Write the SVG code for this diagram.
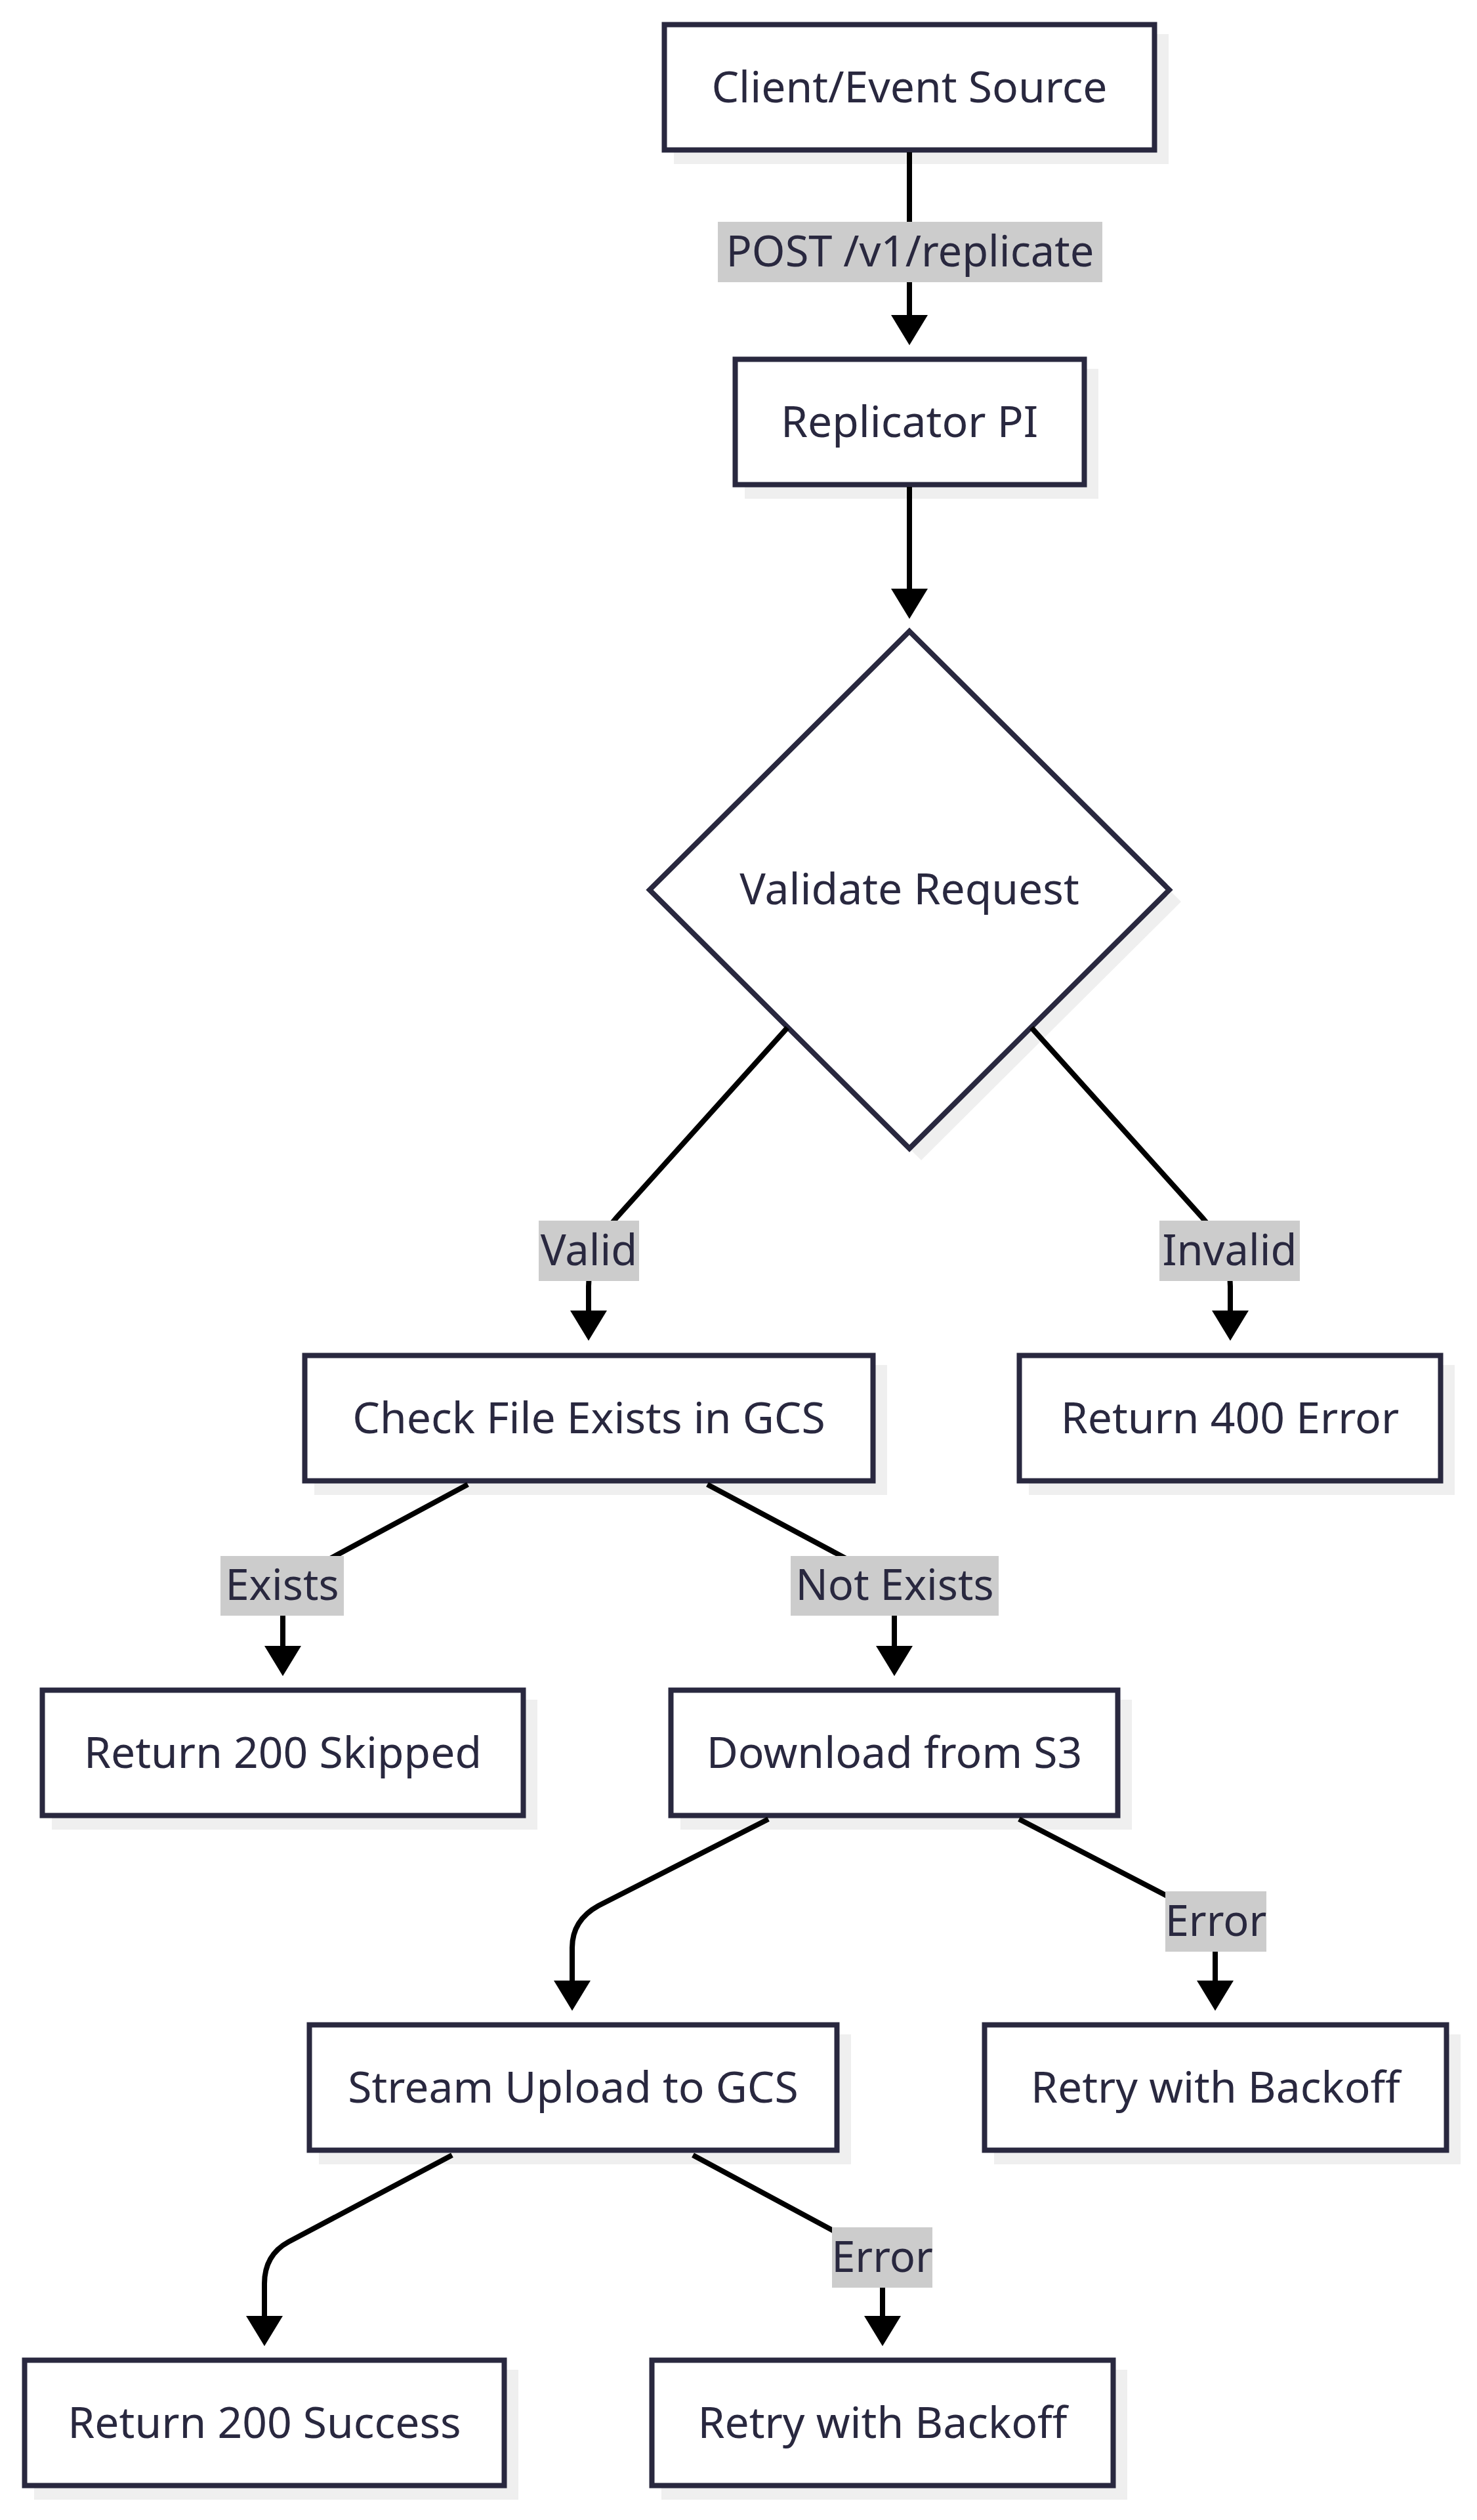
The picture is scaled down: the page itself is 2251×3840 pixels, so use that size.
<svg xmlns="http://www.w3.org/2000/svg" width="2251" height="3840" viewBox="0 0 2251 3840">
<defs>
<style>
.shadow{fill:#efefef;stroke:none}
.node{fill:#ffffff;stroke:#29283f;stroke-width:8}
.ntext{font-family:"Noto Sans","Open Sans",sans-serif;font-size:66px;fill:#29283f;text-anchor:middle}
.edge{fill:none;stroke:#000000;stroke-width:8}
.lbg{fill:#cccccc;stroke:none}
.ltext{font-family:"Noto Sans","Open Sans",sans-serif;font-size:65px;fill:#29283f;text-anchor:middle}
</style>
<marker id="arrow" markerUnits="userSpaceOnUse" viewBox="0 0 46 56" refX="1" refY="28" markerWidth="46" markerHeight="56" orient="auto">
<path d="M0,0 L46,28 L0,56 z" fill="#000000"/>
</marker>
</defs>
<rect x="0" y="0" width="2251" height="3840" fill="#ffffff"/>

<g id="node-client">
<rect class="shadow" x="1027" y="52" width="754" height="198"/>
<rect class="node" x="1012.5" y="37.5" width="747" height="191"/>
<text class="ntext" x="1386" y="156">Client/Event Source</text>
</g>
<g id="node-replicator">
<rect class="shadow" x="1135" y="562" width="539" height="198"/>
<rect class="node" x="1120.5" y="547.5" width="532" height="191"/>
<text class="ntext" x="1386" y="666">Replicator PI</text>
</g>
<g id="node-validate">
<polygon class="shadow" points="1404,980 1800,1374 1404,1768 1008,1374"/>
<polygon class="node" points="1386,962 1782,1356 1386,1750 990,1356"/>
<text class="ntext" x="1386" y="1378">Validate Request</text>
</g>
<g id="node-check">
<rect class="shadow" x="479" y="2080" width="873" height="198"/>
<rect class="node" x="464.5" y="2065.5" width="866" height="191"/>
<text class="ntext" x="897.5" y="2184">Check File Exists in GCS</text>
</g>
<g id="node-400">
<rect class="shadow" x="1568" y="2080" width="649" height="198"/>
<rect class="node" x="1553.5" y="2065.5" width="642" height="191"/>
<text class="ntext" x="1874.5" y="2184">Return 400 Error</text>
</g>
<g id="node-skipped">
<rect class="shadow" x="79" y="2590" width="740" height="198"/>
<rect class="node" x="64.5" y="2575.5" width="733" height="191"/>
<text class="ntext" x="431" y="2694">Return 200 Skipped</text>
</g>
<g id="node-download">
<rect class="shadow" x="1037" y="2590" width="688" height="198"/>
<rect class="node" x="1022.5" y="2575.5" width="681" height="191"/>
<text class="ntext" x="1363" y="2694">Download from S3</text>
</g>
<g id="node-stream">
<rect class="shadow" x="486" y="3100" width="811" height="198"/>
<rect class="node" x="471.5" y="3085.5" width="804" height="191"/>
<text class="ntext" x="873.5" y="3204">Stream Upload to GCS</text>
</g>
<g id="node-retry1">
<rect class="shadow" x="1515" y="3100" width="711" height="198"/>
<rect class="node" x="1500.5" y="3085.5" width="704" height="191"/>
<text class="ntext" x="1852.5" y="3204">Retry with Backoff</text>
</g>
<g id="node-success">
<rect class="shadow" x="52" y="3611" width="738" height="198"/>
<rect class="node" x="37.5" y="3596.5" width="731" height="191"/>
<text class="ntext" x="403" y="3715">Return 200 Success</text>
</g>
<g id="node-retry2">
<rect class="shadow" x="1008" y="3611" width="710" height="198"/>
<rect class="node" x="993.5" y="3596.5" width="703" height="191"/>
<text class="ntext" x="1345" y="3715">Retry with Backoff</text>
</g>

<g id="connectors">
<path class="edge" d="M1386,232 V481" marker-end="url(#arrow)"/>
<path class="edge" d="M1386,742 V898" marker-end="url(#arrow)"/>
<path class="edge" d="M1200,1566 L940,1855 Q897,1903 897,1960 V1998" marker-end="url(#arrow)"/>
<path class="edge" d="M1572,1566 L1832,1855 Q1875,1903 1875,1960 V1998" marker-end="url(#arrow)"/>
<path class="edge" d="M713,2262 L505,2374 Q431,2414 431,2460 V2509" marker-end="url(#arrow)"/>
<path class="edge" d="M1078,2262 L1284,2372 Q1363,2414 1363,2460 V2509" marker-end="url(#arrow)"/>
<path class="edge" d="M1171,2772 L912,2904 Q872,2926 872,2968 V3019" marker-end="url(#arrow)"/>
<path class="edge" d="M1553,2772 L1790,2895 Q1852,2928 1852,2970 V3019" marker-end="url(#arrow)"/>
<path class="edge" d="M689,3284 L440,3416 Q403,3436 403,3480 V3530" marker-end="url(#arrow)"/>
<path class="edge" d="M1056,3284 L1290,3410 Q1345,3440 1345,3480 V3530" marker-end="url(#arrow)"/>

<g id="label-post">
<rect class="lbg" x="1094" y="338" width="586" height="92"/>
<text class="ltext" x="1387" y="406">POST /v1/replicate</text>
</g>
<g id="label-valid">
<rect class="lbg" x="821" y="1860" width="153" height="92"/>
<text class="ltext" x="897.5" y="1928">Valid</text>
</g>
<g id="label-invalid">
<rect class="lbg" x="1767" y="1860" width="214" height="92"/>
<text class="ltext" x="1874" y="1928">Invalid</text>
</g>
<g id="label-exists">
<rect class="lbg" x="336" y="2371" width="188" height="91"/>
<text class="ltext" x="430" y="2438">Exists</text>
</g>
<g id="label-notexists">
<rect class="lbg" x="1205" y="2371" width="317" height="91"/>
<text class="ltext" x="1363.5" y="2438">Not Exists</text>
</g>
<g id="label-error1">
<rect class="lbg" x="1776" y="2882" width="154" height="92"/>
<text class="ltext" x="1853" y="2950">Error</text>
</g>
<g id="label-error2">
<rect class="lbg" x="1268" y="3394" width="153" height="92"/>
<text class="ltext" x="1344.5" y="3462">Error</text>
</g>
</g>
</svg>
